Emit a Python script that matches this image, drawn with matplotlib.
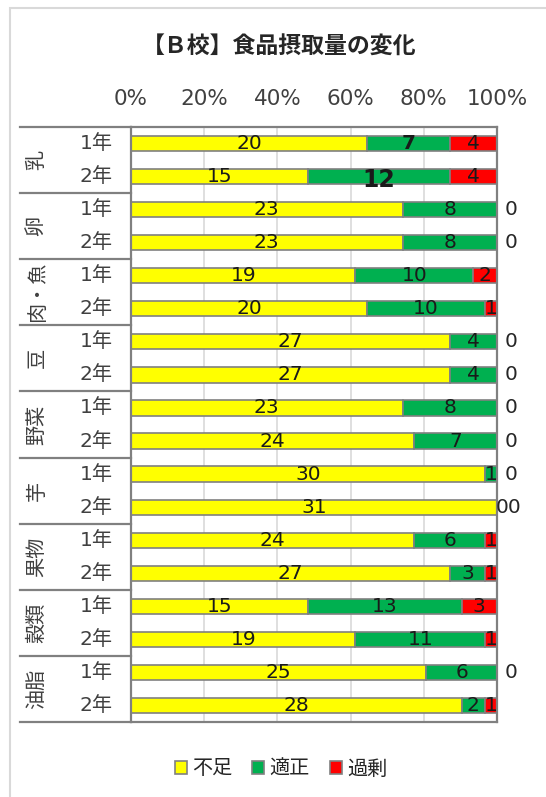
import matplotlib
matplotlib.use("Agg")
import matplotlib.pyplot as plt
import numpy as np
from matplotlib.patches import Rectangle

plt.rcParams["font.family"] = ["DejaVu Sans", "Noto Sans CJK JP"]

# groups (food), years, and counts: 不足 / 適正 / 過剰
FOODS = ["乳", "卵", "肉・魚", "豆", "野菜", "芋", "果物", "穀類", "油脂"]
YEARS = ["1年", "2年"]
SERIES = ["不足", "適正", "過剰"]
COLORS = ["#FFFF00", "#00B050", "#FF0000"]
LACK = [20, 15, 23, 23, 19, 20, 27, 27, 23, 24, 30, 31, 24, 27, 15, 19, 25, 28]
GOOD = [7, 12, 8, 8, 10, 10, 4, 4, 8, 7, 1, 0, 6, 3, 13, 11, 6, 2]
OVER = [4, 4, 0, 0, 2, 1, 0, 0, 0, 0, 0, 0, 1, 1, 3, 1, 0, 1]
BOLD = {(0, 1): 14.5, (1, 1): 17}  # (row, series) -> font size (pt) of emphasised labels

W, H = 546, 797
FS = 14.5  # main text size, pt
CJK = ["Noto Sans CJK JP", "DejaVu Sans"]
fig = plt.figure(figsize=(W / 100, H / 100), dpi=100)

# chart outer border
fig.patches.append(Rectangle((10 / W, -0.05), 1.2, (H - 8) / H + 0.05, transform=fig.transFigure,
                             fill=False, ec="#d9d9d9", lw=1.5))

left, right, top, bottom = 131, 497, 127, 722
ax = fig.add_axes([left / W, 1 - bottom / H, (right - left) / W, (bottom - top) / H])

data = np.array([LACK, GOOD, OVER], dtype=float)
tot = data.sum(axis=0)
frac = data / tot * 100
n = len(LACK)
ys = np.arange(n)

lefts = np.zeros(n)
for s in range(3):
    ax.barh(ys, frac[s], left=lefts, height=0.46, color=COLORS[s], edgecolor="#808080",
            linewidth=1.2, zorder=2, label=SERIES[s])
    for i in range(n):
        v = data[s, i]
        if v == 0:
            continue
        fs, fw = FS, "normal"
        if (i, s) in BOLD:
            fs, fw = BOLD[(i, s)], "bold"
        ax.text(lefts[i] + frac[s, i] / 2, ys[i] + (0.1 if fs > 16 else 0.0), f"{int(v)}",
                ha="center", va="center", fontsize=fs, fontweight=fw, color="#1a1a1a", zorder=3)
    lefts += frac[s]

# zero labels beyond bar ends
for i in range(n):
    zeros = int((data[1:, i] == 0).sum())
    if zeros == 0:
        continue
    off = 8 if zeros == 1 else -1
    ax.annotate("0" * zeros, (100, ys[i]), xytext=(off, 0), textcoords="offset pixels",
                ha="left", va="center", fontsize=FS, color="#262626", annotation_clip=False)

ax.set_xlim(0, 100)
ax.set_ylim(n - 0.5, -0.5)
ax.set_xticks(np.arange(0, 101, 20))
ax.set_xticklabels([f"{t}%" for t in range(0, 101, 20)], fontsize=15.5, color="#404040")
ax.xaxis.tick_top()
ax.tick_params(axis="x", length=0, pad=13)
ax.set_yticks([])
ax.grid(axis="x", color="#d9d9d9", lw=1.2, zorder=0)
ax.set_axisbelow(True)
for sp in ax.spines.values():
    sp.set_color("#808080")
    sp.set_linewidth(1.6)

# left-hand grouped category axis
tr = ax.get_yaxis_transform()
x0 = (20 - left) / (right - left)
for i in range(n):
    ax.text((96 - left) / (right - left), ys[i], YEARS[i % 2], transform=tr, ha="center",
            va="center", fontsize=FS, color="#404040")
for g, food in enumerate(FOODS):
    ax.text((37 - left) / (right - left), 2 * g + 0.5, food, transform=tr, ha="center",
            va="center", rotation=90, fontsize=FS, color="#404040", family=CJK)
for b in range(len(FOODS) + 1):
    ax.plot([x0, 0], [2 * b - 0.5] * 2, transform=tr, color="#808080", lw=1.6,
            clip_on=False, zorder=4)

fig.text(279 / W, 1 - 47 / H, "【Ｂ校】食品摂取量の変化", ha="center", va="center",
         fontsize=16.5, fontweight="bold", color="#262626", family=CJK)

fig.legend(loc="center", bbox_to_anchor=(281 / W, 1 - 769 / H), ncol=3, frameon=False,
           prop={"family": CJK, "size": 14.5}, handlelength=0.6, handleheight=0.6,
           handletextpad=0.25, columnspacing=1.0, labelcolor="#262626")

fig.savefig("out.png", dpi=100)
